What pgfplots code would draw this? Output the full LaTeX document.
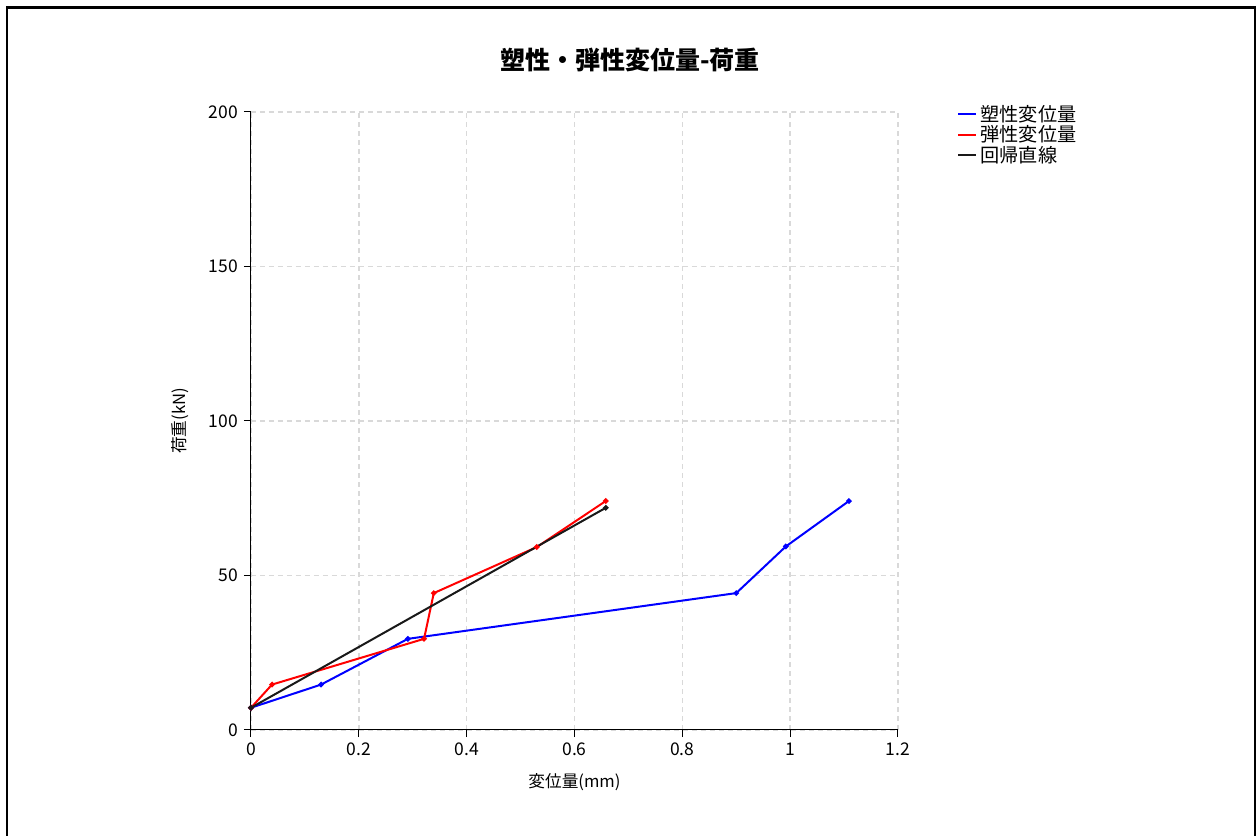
\documentclass[border=0pt]{standalone}
\usepackage{fontspec}
\setmainfont{Noto Sans CJK JP}
\usepackage{pgfplots}
\pgfplotsset{compat=1.18}
\begin{document}
\begin{tikzpicture}
\begin{scope}[x=0.6pt,y=0.6pt]
\path[use as bounding box] (0,0) rectangle (1259,836);
\draw[line width=1.3pt] (7,-5) -- (7,828.5) -- (1255,828.5) -- (1255,-5);
\node[font=\fontsize{15}{17}\selectfont\bfseries] at (630,776) {塑性・弾性変位量-荷重};
\end{scope}
\begin{axis}[
  at={(150.6pt,63.6pt)}, anchor=origin,
  scale only axis, width=388.2pt, height=370.8pt,
  xmin=0, xmax=1.2, ymin=0, ymax=200,
  xtick={0,0.2,0.4,0.6,0.8,1,1.2},
  ytick={0,50,100,150,200},
  axis lines*=left,
  axis line style={line width=0.6pt},
  tick align=outside,
  major tick length=4.3pt,
  tick style={black, line width=0.6pt},
  grid=major,
  major grid style={dash pattern=on 3pt off 2.4pt, gray!30, line width=0.9pt},
  ticklabel style={font=\fontsize{10.5}{12}\selectfont},
  /pgf/number format/assume math mode=true,
  xlabel={変位量(mm)},
  ylabel={荷重(kN)},
  label style={font=\fontsize{10.5}{12}\selectfont},
  every axis x label/.style={at={(axis description cs:0.5,-0.084)}, anchor=center},
  every axis y label/.style={at={(axis description cs:-0.11,0.5)}, rotate=90, anchor=center},
  legend style={at={(axis description cs:1.091,1.017)}, anchor=north west, draw=none, fill=none,
    font=\fontsize{11.5}{12}\selectfont, row sep=-2.9pt, inner sep=0pt},
  legend cell align=left,
  legend image code/.code={\draw[#1, line width=1.2pt] (0pt,0pt) -- (10.8pt,0pt);},
  every axis plot/.append style={line width=1.2pt, mark=*, mark size=1pt},
]
\addplot[blue, mark options={fill=blue}] coordinates {
 (0,7.2) (0.13,14.7) (0.291,29.5) (0.90,44.3) (0.992,59.4) (1.109,74.1)};
\addlegendentry{塑性変位量}
\addplot[red, mark options={fill=red}] coordinates {
 (0,7.2) (0.039,14.7) (0.321,29.5) (0.339,44.3) (0.53,59.2) (0.658,74.1)};
\addlegendentry{弾性変位量}
\addplot[black!90, mark options={fill=black}] coordinates {
 (0,7.2) (0.658,71.9)};
\addlegendentry{回帰直線}
\end{axis}
\end{tikzpicture}
\end{document}
